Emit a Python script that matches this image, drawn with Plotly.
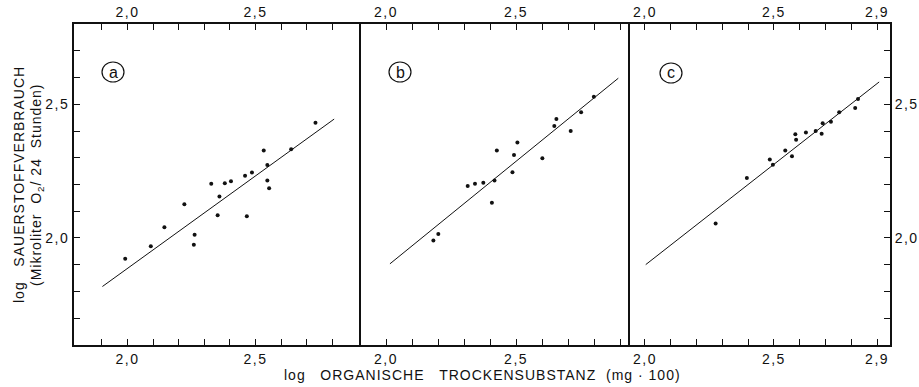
import plotly.graph_objects as go

W, H = 919, 387

# ---- measured values: log dry mass (x) vs. log oxygen uptake (y) ----
a_x = [1.991, 2.091, 2.144, 2.222, 2.262, 2.259, 2.327, 2.359, 2.352, 2.380,
       2.404, 2.459, 2.486, 2.466, 2.532, 2.546, 2.546, 2.553, 2.639, 2.734]
a_y = [1.922, 1.969, 2.040, 2.126, 2.012, 1.974, 2.203, 2.155, 2.085, 2.205,
       2.212, 2.233, 2.245, 2.081, 2.327, 2.273, 2.215, 2.186, 2.332, 2.431]
a_fit_x = [1.902, 2.807]
a_fit_y = [1.818, 2.445]

b_x = [2.182, 2.201, 2.314, 2.342, 2.374, 2.417, 2.407, 2.426, 2.486, 2.492,
       2.505, 2.601, 2.647, 2.655, 2.710, 2.750, 2.799]
b_y = [1.990, 2.015, 2.194, 2.203, 2.207, 2.215, 2.132, 2.327, 2.246, 2.310,
       2.357, 2.298, 2.419, 2.445, 2.400, 2.471, 2.529]
b_fit_x = [2.015, 2.893]
b_fit_y = [1.903, 2.598]

c_x = [2.274, 2.395, 2.484, 2.496, 2.544, 2.570, 2.583, 2.586, 2.624, 2.662,
       2.685, 2.689, 2.721, 2.753, 2.815, 2.826]
c_y = [2.054, 2.224, 2.294, 2.274, 2.327, 2.306, 2.388, 2.368, 2.395, 2.400,
       2.390, 2.429, 2.435, 2.471, 2.486, 2.520]
c_fit_x = [2.003, 2.908]
c_fit_y = [1.900, 2.584]

panel_letters = ["a", "b", "c"]

x_ranges = [[1.791, 2.904], [1.896, 2.938], [1.942, 2.950]]
y_range = [1.599, 2.801]

x_tickvals = [
    [1.9, 2.0, 2.1, 2.2, 2.3, 2.4, 2.5, 2.6, 2.7, 2.8],
    [2.0, 2.1, 2.2, 2.3, 2.4, 2.5, 2.6, 2.7, 2.8, 2.9],
    [2.0, 2.1, 2.2, 2.3, 2.4, 2.5, 2.6, 2.7, 2.8, 2.9],
]
x_labelled = [[2.0, 2.5], [2.0, 2.5], [2.0, 2.5, 2.9]]
y_tickvals = [1.7, 1.8, 1.9, 2.0, 2.1, 2.2, 2.3, 2.4, 2.5, 2.6, 2.7]
y_labelled = [2.0, 2.5]

FONT = "Liberation Sans"
INK = "#111111"


def px_x(p):
    return p / W


def px_y(p):
    return 1 - p / H


def spaced(text, px):
    return f'<span style="letter-spacing:{px}px">{text}</span>'


def fmt(v):
    return spaced(f"{v:.1f}".replace(".", ","), 1.5)


def ticktext(vals, labelled):
    return [fmt(v) if any(abs(v - l) < 1e-9 for l in labelled) else " " for v in vals]


domains = [[px_x(74), px_x(359)], [px_x(359), px_x(630)], [px_x(630), px_x(890)]]
y_dom = [px_y(345), px_y(24)]

fig = go.Figure()

series = [(a_x, a_y, a_fit_x, a_fit_y), (b_x, b_y, b_fit_x, b_fit_y),
          (c_x, c_y, c_fit_x, c_fit_y)]

for i, (xs, ys, fx, fy) in enumerate(series):
    xa = "x" if i == 0 else f"x{i + 1}"
    ya = "y" if i == 0 else f"y{i + 1}"
    fig.add_trace(go.Scatter(x=fx, y=fy, mode="lines", xaxis=xa, yaxis=ya,
                             line=dict(color=INK, width=1), showlegend=False,
                             hoverinfo="skip"))
    fig.add_trace(go.Scatter(x=xs, y=ys, mode="markers", xaxis=xa, yaxis=ya,
                             marker=dict(color=INK, size=4), showlegend=False))

common = dict(showgrid=False, zeroline=False, showline=True, linecolor=INK,
              linewidth=1.8, ticks="inside", ticklen=6, tickwidth=1,
              tickcolor=INK, tickfont=dict(family=FONT, size=14, color=INK))

layout = dict(width=W, height=H, margin=dict(l=0, r=0, t=0, b=0),
              paper_bgcolor="white", plot_bgcolor="white", showlegend=False)

for i in range(3):
    n = "" if i == 0 else str(i + 1)
    # bottom x axis
    layout[f"xaxis{n}"] = dict(common, domain=domains[i], range=x_ranges[i],
                               anchor=f"y{n}", tickmode="array",
                               tickvals=x_tickvals[i],
                               ticktext=ticktext(x_tickvals[i], x_labelled[i]))
    # top x axis (same scale)
    top = str(i + 4)
    layout[f"xaxis{top}"] = dict(common, range=x_ranges[i], overlaying=f"x{n}",
                                 side="top", anchor=f"y{n}", tickmode="array",
                                 tickvals=x_tickvals[i],
                                 ticktext=ticktext(x_tickvals[i], x_labelled[i]))
    # y axes: panel frames are shared, so the middle panel draws no lines
    yax = dict(common, domain=y_dom, range=y_range, anchor=f"x{n}")
    if i == 0:
        yax.update(side="left", mirror=True, tickmode="array",
                   tickvals=y_tickvals, ticktext=ticktext(y_tickvals, y_labelled))
    elif i == 2:
        yax.update(side="right", mirror=True, tickmode="array",
                   tickvals=y_tickvals, ticktext=ticktext(y_tickvals, y_labelled))
    else:
        yax.update(showline=False, ticks="", showticklabels=False)
    layout[f"yaxis{n}"] = yax

fig.update_layout(**layout)

# make sure the top axes are drawn
for i in range(3):
    n = "" if i == 0 else str(i + 1)
    fig.add_trace(go.Scatter(x=[x_ranges[i][0]], y=[y_range[0]], mode="markers",
                             xaxis=f"x{i + 4}", yaxis=f"y{n}",
                             marker=dict(size=1, opacity=0), showlegend=False,
                             hoverinfo="skip"))

# circled panel letters
circle_centres = [(113, 72), (400, 72), (671, 73)]
for letter, (cx, cy) in zip(panel_letters, circle_centres):
    fig.add_shape(type="circle", xref="paper", yref="paper",
                  x0=px_x(cx - 11), x1=px_x(cx + 11),
                  y0=px_y(cy + 10), y1=px_y(cy - 10),
                  line=dict(color=INK, width=1.2))
    fig.add_annotation(x=px_x(cx), y=px_y(cy), xref="paper", yref="paper",
                       xanchor="center", yanchor="middle",
                       text=letter, showarrow=False,
                       font=dict(family=FONT, size=16, color=INK))

# axis titles
fig.add_annotation(x=px_x(483), y=px_y(375), xref="paper", yref="paper",
                   xanchor="center", yanchor="middle",
                   text=spaced("log&nbsp;&nbsp;&nbsp;ORGANISCHE&nbsp;&nbsp;&nbsp;TROCKENSUBSTANZ&nbsp;&nbsp;(mg · 100)", 1),
                   showarrow=False, font=dict(family=FONT, size=14, color=INK))
fig.add_annotation(x=px_x(19), y=px_y(185), xref="paper", yref="paper",
                   xanchor="center", yanchor="middle",
                   text=spaced("log&nbsp;&nbsp;&nbsp;SAUERSTOFFVERBRAUCH", 1),
                   textangle=-90, showarrow=False,
                   font=dict(family=FONT, size=14, color=INK))
fig.add_annotation(x=px_x(37), y=px_y(185), xref="paper", yref="paper",
                   xanchor="center", yanchor="middle",
                   text=spaced("(Mikroliter&nbsp;&nbsp;O<sub>2</sub>/&nbsp;24&nbsp;&nbsp;Stunden)", 1),
                   textangle=-90, showarrow=False,
                   font=dict(family=FONT, size=14, color=INK))

fig.write_html("out.html")
